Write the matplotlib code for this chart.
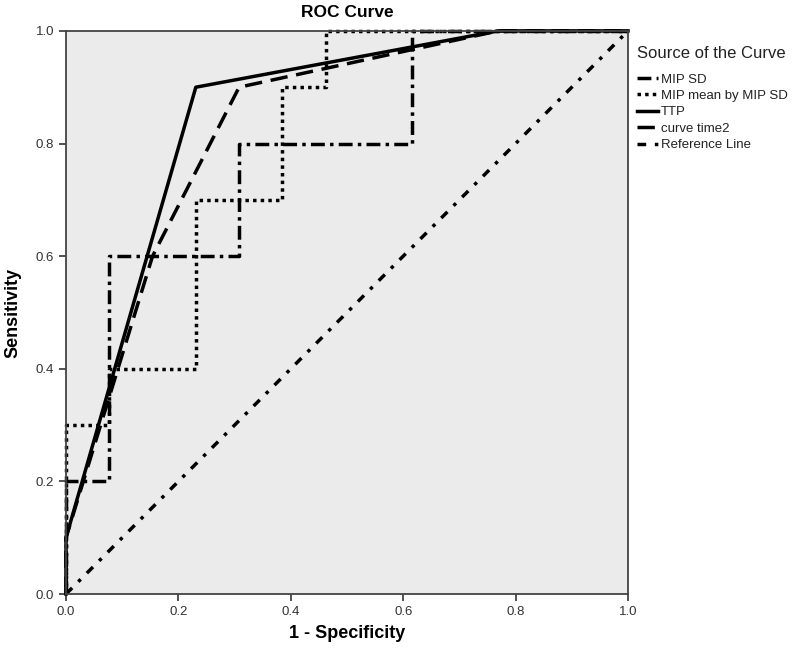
import matplotlib
matplotlib.use("Agg")
import matplotlib.pyplot as plt

plt.rcParams['font.family'] = ['Liberation Sans', 'DejaVu Sans']

# 1 - specificity steps are multiples of 1/13, sensitivity of 1/10
mip_sd_x = [0, 0, 0.077, 0.077, 0.308, 0.308, 0.615, 0.615, 1.0]
mip_sd_y = [0, 0.2, 0.2, 0.6, 0.6, 0.8, 0.8, 1.0, 1.0]

mip_mean_x = [0, 0, 0.077, 0.077, 0.231, 0.231, 0.385, 0.385, 0.462, 0.462, 1.0]
mip_mean_y = [0, 0.3, 0.3, 0.4, 0.4, 0.7, 0.7, 0.9, 0.9, 1.0, 1.0]

ttp_x = [0, 0, 0.231, 0.769, 1.0]
ttp_y = [0, 0.1, 0.9, 1.0, 1.0]

time2_x = [0, 0, 0.154, 0.308, 0.769, 1.0]
time2_y = [0, 0.1, 0.6, 0.9, 1.0, 1.0]

ref_x = [0, 1]
ref_y = [0, 1]

fig = plt.figure(figsize=(8, 6.59), dpi=100)
ax = fig.add_axes([0.0825, 0.0986, 0.7025, 0.8545])
ax.set_facecolor('#ebebeb')

lw = 2.5
ax.plot(mip_sd_x, mip_sd_y, color='black', lw=lw, dashes=(4, 1.5, 1, 1.5),
        label='MIP SD', clip_on=False)
ax.plot(mip_mean_x, mip_mean_y, color='black', lw=lw, dashes=(1, 1.2),
        label='MIP mean by MIP SD', clip_on=False)
ax.plot(ttp_x, ttp_y, color='black', lw=lw, label='TTP', clip_on=False)
ax.plot(time2_x, time2_y, color='black', lw=lw, dashes=(5, 2.5),
        label='curve time2', clip_on=False)
ax.plot(ref_x, ref_y, color='black', lw=lw, dashes=(2.5, 2.5, 1, 2.5),
        label='Reference Line', clip_on=False)

ax.set_xlim(0, 1)
ax.set_ylim(0, 1)
ticks = [0.0, 0.2, 0.4, 0.6, 0.8, 1.0]
ax.set_xticks(ticks)
ax.set_yticks(ticks)
ax.set_xticklabels(['%.1f' % t for t in ticks], fontsize=9.5)
ax.set_yticklabels(['%.1f' % t for t in ticks], fontsize=9.5)
ax.tick_params(direction='out', length=5, width=1.2, color='#333333',
               labelcolor='#333333')

for s in ax.spines.values():
    s.set_color('#444444')
    s.set_linewidth(1.3)

ax.set_title('ROC Curve', fontsize=12.5, fontweight='bold', pad=10)
ax.set_xlabel('1 - Specificity', fontsize=13, fontweight='bold', labelpad=5)
ax.set_ylabel('Sensitivity', fontsize=13, fontweight='bold', labelpad=10)

leg = ax.legend(loc='upper left', bbox_to_anchor=(1.0, 0.99), frameon=False,
                title='Source of the Curve', fontsize=9.5, title_fontsize=12,
                handlelength=1.6, handletextpad=0.2, labelspacing=0.32,
                borderaxespad=0.3)
leg._legend_box.align = 'left'
leg._legend_box.sep = 9
for t in leg.get_texts():
    t.set_color('#222222')
leg.get_title().set_color('#222222')

fig.savefig('out.png', dpi=100)
